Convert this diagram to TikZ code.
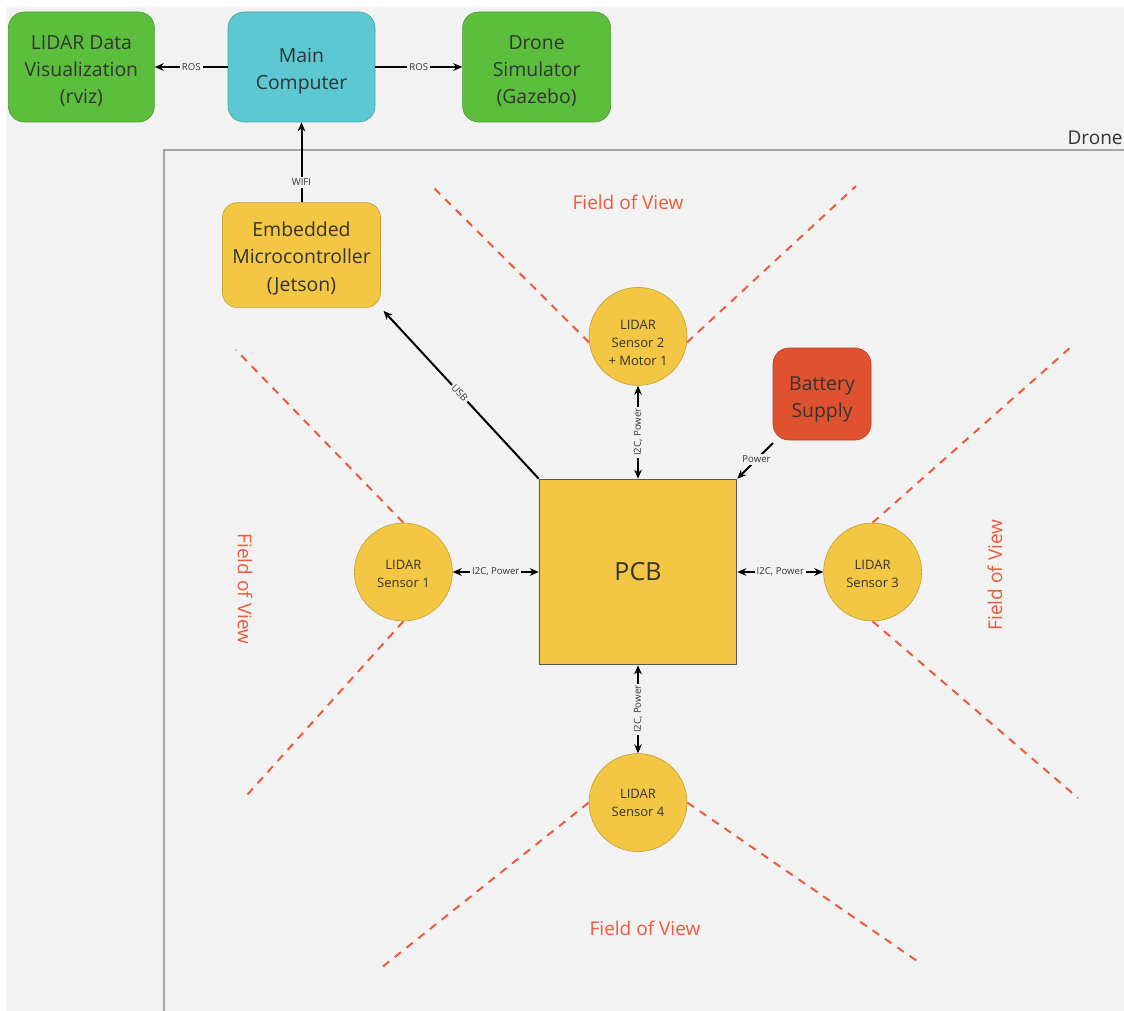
\documentclass[tikz,border=0pt]{standalone}
\usepackage{fontspec}
\setmainfont{Open Sans}
\usetikzlibrary{arrows.meta, positioning, calc}
\definecolor{CanvasGray}{HTML}{F2F2F2}
\definecolor{FrameGray}{HTML}{A6A6A6}
\definecolor{SimGreen}{HTML}{5BBE3C}
\definecolor{HostCyan}{HTML}{5BC8D2}
\definecolor{BoardYellow}{HTML}{F3C744}
\definecolor{PowerRed}{HTML}{E0522F}
\definecolor{ViewRed}{HTML}{EC5B3D}
\definecolor{InkGray}{HTML}{333333}
\definecolor{PcbEdge}{HTML}{555555}
\newcommand{\toplift}[1]{\rule{0pt}{#1}}

\begin{document}
\begin{tikzpicture}[
  x=0.5pt, y=-0.5pt,
  box/.style={rectangle, rounded corners=8pt, draw=#1!80!black, line width=0.3pt,
              fill=#1, align=center, text=InkGray,
              font=\fontsize{9.7}{13.6}\selectfont},
  sensor/.style={circle, draw=BoardYellow!80!black, line width=0.3pt, fill=BoardYellow,
                 minimum size=49pt, inner sep=0pt, align=center, text=InkGray,
                 font=\fontsize{6.5}{9}\selectfont},
  arr/.style={-{Stealth[length=4.5pt, width=3.8pt]}, line width=1pt},
  biarr/.style={{Stealth[length=4.5pt, width=3.8pt]}-{Stealth[length=4.5pt, width=3.8pt]},
                line width=1pt},
  lbl/.style={font=\fontsize{4.8}{6}\selectfont, fill=CanvasGray, inner sep=1pt,
              text=InkGray},
  view/.style={ViewRed, line width=1pt, dash pattern=on 4pt off 3.5pt},
  fov/.style={text=ViewRed, font=\fontsize{9.5}{12}\selectfont},
]
\useasboundingbox (0,0) rectangle (1124,1011);
\fill[CanvasGray] (6,7) rectangle (1124,1011);

% drone frame
\draw[FrameGray, line width=1pt] (1124,150) -- (164,150) -- (164,1011);
\node[anchor=south east, inner sep=0pt, text=InkGray, font=\fontsize{9.5}{12}\selectfont]
  (dronelbl) at (1123,145) {Drone};

% off-board
\node[box=HostCyan, minimum width=73.5pt, minimum height=55pt] (host) at (301.5,67)
  {\toplift{11pt}Main\\Computer};
\node[box=SimGreen, minimum width=73pt, minimum height=55pt, left=36.5pt of host] (rviz)
  {\toplift{11pt}LIDAR Data\\Visualization\\(rviz)};
\node[box=SimGreen, minimum width=74pt, minimum height=55pt, right=43.5pt of host] (gazebo)
  {\toplift{11.2pt}Drone\\Simulator\\(Gazebo)};

% on-board
\node[box=BoardYellow, rounded corners=7.5pt, minimum width=79pt, minimum height=52.5pt,
      below=40pt of host] (jetson) {\toplift{10.6pt}Embedded\\Microcontroller\\(Jetson)};
\node[rectangle, draw=PcbEdge, line width=0.8pt, fill=BoardYellow, text=InkGray,
      minimum width=98.5pt, minimum height=92.5pt, font=\fontsize{12.5}{15}\selectfont]
  (pcb) at (638,572) {PCB};
\node[sensor, above=46.5pt of pcb] (lidartwo) {\toplift{11.6pt}LIDAR\\Sensor 2\\+ Motor 1};
\node[sensor, left=43pt of pcb] (lidarone) {\toplift{6.6pt}LIDAR\\Sensor 1};
\node[sensor, right=43pt of pcb] (lidarthree) {\toplift{6.6pt}LIDAR\\Sensor 3};
\node[sensor, below=44pt of pcb] (lidarfour) {LIDAR\\Sensor 4};
\node[box=PowerRed, minimum width=49pt, minimum height=46pt] (battery) at (822,394)
  {\toplift{12pt}Battery\\Supply};

% fields of view
\draw[view] (lidartwo.187) -- (433,187);
\draw[view] (lidartwo.353) -- (856,186);
\draw[view] (lidarone.north) -- (236,350);
\draw[view] (lidarone.south) -- (247,795);
\draw[view] (lidarthree.north) -- (1071,347);
\draw[view] (lidarthree.south) -- (1078,798);
\draw[view] (lidarfour.west) -- (381,968);
\draw[view] (lidarfour.east) -- (920,963);
\node[fov] (fovtop) at (628,202) {Field of View};
\node[fov, rotate=-90] (fovleft) at (245,589) {Field of View};
\node[fov, rotate=90] (fovright) at (995,575) {Field of View};
\node[fov] (fovbottom) at (645,928) {Field of View};

% links
\draw[arr] (host) -- node[lbl]{ROS} (rviz);
\draw[arr] (host) -- node[lbl]{ROS} (gazebo);
\draw[arr] (jetson) -- node[lbl, pos=0.25]{WIFI} (host);
\draw[arr, shorten >=2pt] (pcb.north west) -- node[lbl, sloped]{USB} (jetson.south east);
\draw[biarr] (lidartwo) -- node[lbl, rotate=90]{I2C, Power} (pcb);
\draw[biarr] (lidarone) -- node[lbl]{I2C, Power} (pcb);
\draw[biarr] (pcb) -- node[lbl]{I2C, Power} (lidarthree);
\draw[biarr] (pcb) -- node[lbl, rotate=90]{I2C, Power} (lidarfour);
\draw[arr, shorten <=2pt] (battery) -- node[lbl]{Power} (pcb.north east);

\end{tikzpicture}
\end{document}
